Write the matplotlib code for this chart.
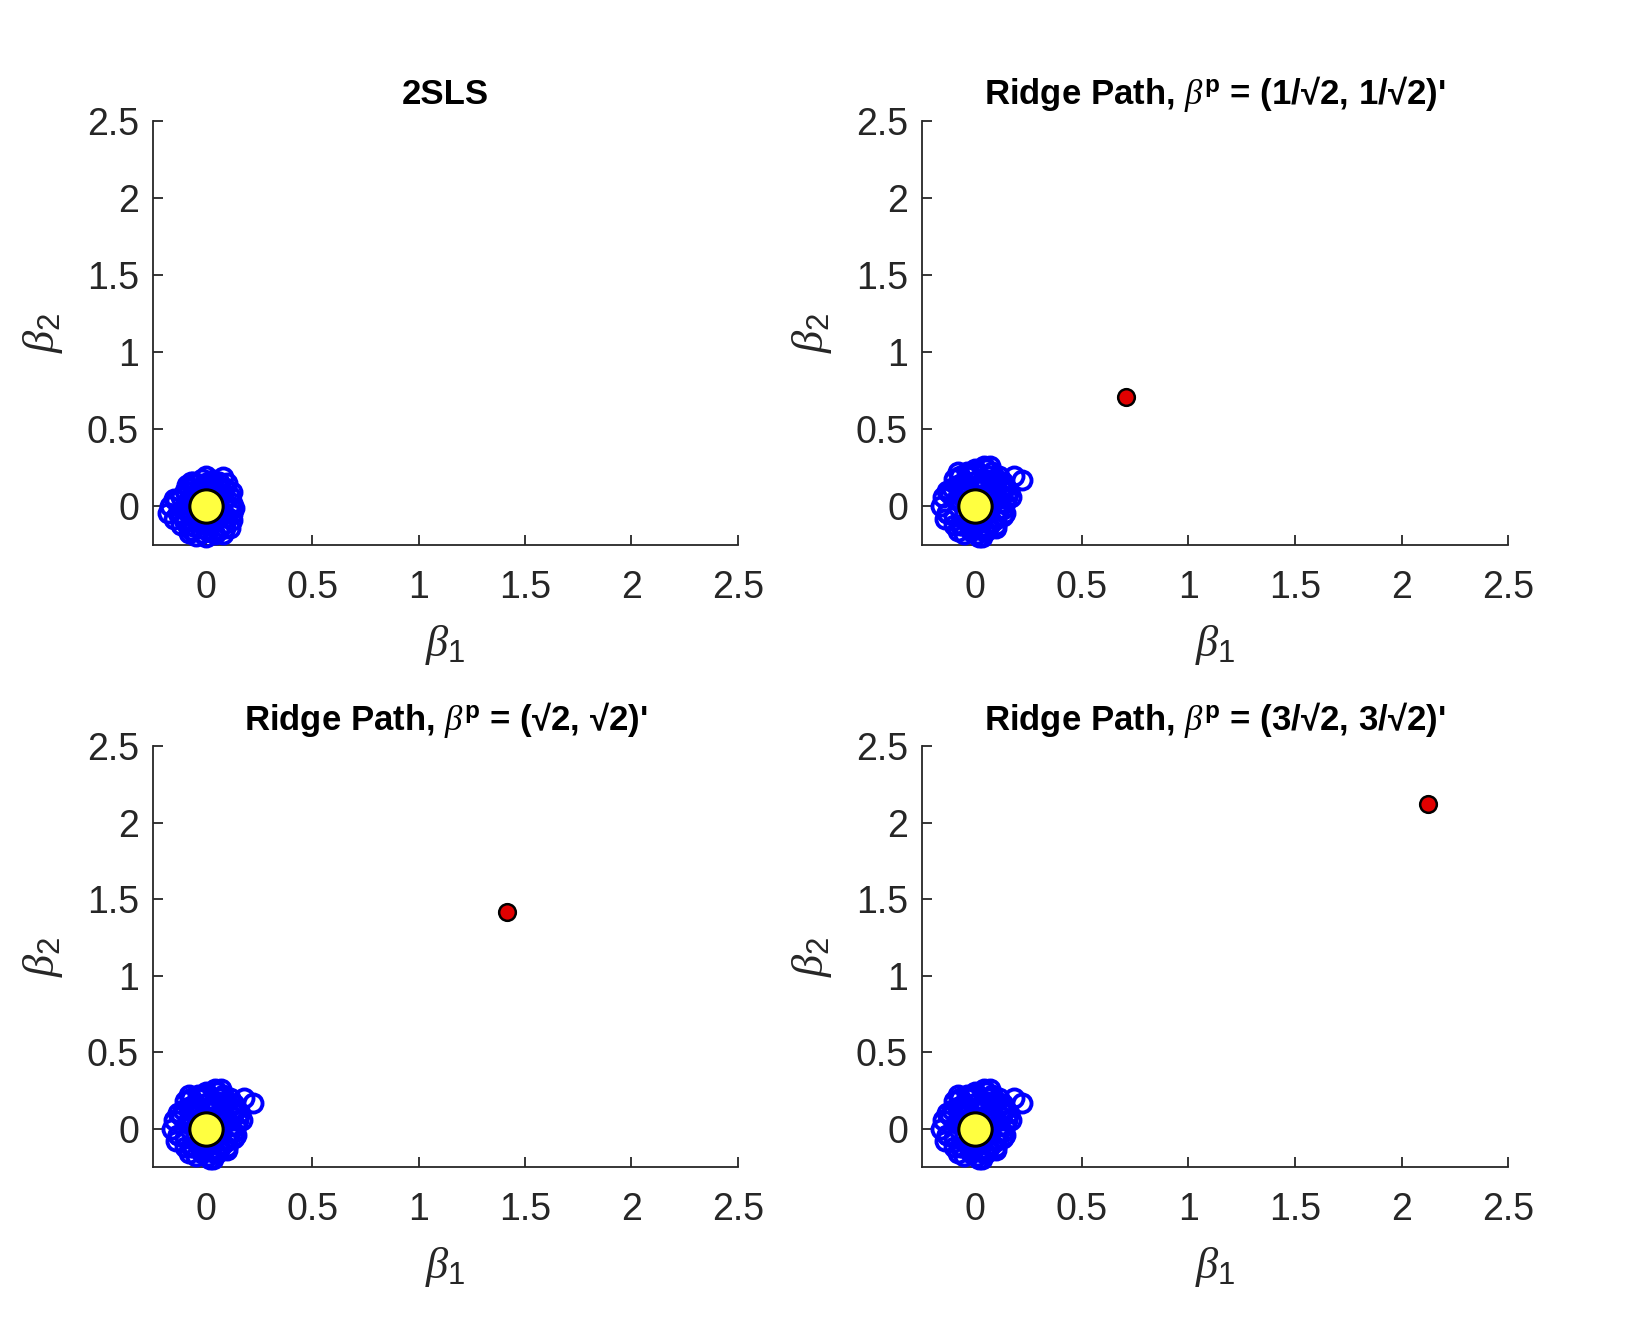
import matplotlib
matplotlib.use("Agg")
import matplotlib.pyplot as plt

# estimates
b1_2sls = [-0.17, -0.12, -0.10, -0.08, -0.06, -0.05, -0.03, -0.02, 0.00, 0.01,
           0.02, 0.03, 0.05, 0.06, 0.08, 0.10, 0.12, 0.13, -0.11, -0.07,
           -0.04, 0.00, 0.04, 0.07, 0.11, -0.09, -0.01, 0.02, 0.09, 0.12,
           -0.13, -0.05, 0.03, 0.06, -0.02, 0.01, 0.08, -0.14, 0.05, -0.06,
           -0.15, -0.12, -0.09, -0.06, -0.03, 0.00, 0.03, 0.06, 0.09, 0.12,
           -0.15, -0.12, -0.09, -0.06, -0.03, 0.00, 0.03, 0.06, 0.09, 0.12,
           -0.10, -0.07, -0.04, -0.01, 0.02, 0.05, 0.08, 0.11, -0.10, -0.07,
           -0.04, -0.01, 0.02, 0.05, 0.08, 0.11, -0.08, 0.10, -0.18, 0.00]
b2_2sls = [0.00, 0.06, -0.08, 0.12, -0.13, 0.15, -0.05, 0.18, 0.10, -0.16,
           0.05, -0.10, 0.14, -0.03, 0.08, -0.07, 0.02, -0.01, -0.02, -0.15,
           0.09, -0.20, -0.18, 0.11, 0.07, 0.03, 0.13, -0.12, -0.14, -0.09,
           -0.04, -0.19, 0.17, 0.16, -0.17, 0.01, 0.19, 0.04, -0.06, 0.10,
           -0.08, -0.12, 0.14, 0.16, -0.14, 0.15, 0.14, -0.15, 0.12, 0.09,
           0.05, -0.05, -0.01, 0.06, 0.11, -0.12, -0.16, 0.12, -0.11, -0.05,
           0.10, 0.03, -0.10, -0.06, 0.16, -0.05, -0.18, 0.00, -0.10, 0.16,
           0.06, 0.14, -0.08, 0.09, 0.02, -0.14, -0.17, 0.15, -0.04, 0.20]

ridge_b1 = [-0.16, -0.12, -0.10, -0.08, -0.06, -0.04, -0.02, 0.00, 0.02, 0.04,
            0.06, 0.08, 0.10, 0.12, 0.14, 0.16, 0.22, -0.13, -0.09, -0.05,
            -0.01, 0.03, 0.07, 0.11, 0.15, -0.11, -0.07, -0.03, 0.01, 0.05,
            0.09, 0.13, -0.14, -0.06, 0.02, 0.10, 0.04, -0.02, 0.08, 0.06,
            0.12, -0.04,
            -0.13, -0.10, -0.07, -0.04, -0.01, 0.02, 0.05, 0.08, 0.11, 0.14,
            -0.13, -0.10, -0.07, -0.04, -0.01, 0.02, 0.05, 0.08, 0.11, 0.14,
            -0.08, -0.05, -0.02, 0.01, 0.04, 0.07, 0.10, 0.13, -0.08, -0.05,
            -0.02, 0.01, 0.04, 0.07, 0.10, 0.13, 0.17, 0.18, -0.15, 0.03]
ridge_b2 = [0.00, 0.08, -0.06, 0.14, -0.12, 0.20, -0.16, 0.24, -0.20, 0.18,
            -0.14, 0.22, -0.08, 0.12, 0.02, 0.10, 0.17, -0.04, 0.04, -0.18,
            0.16, -0.10, 0.26, -0.02, 0.06, 0.12, -0.12, 0.10, -0.18, 0.02,
            0.16, -0.06, -0.08, 0.06, 0.12, -0.12, -0.16, -0.10, 0.04, 0.20,
            0.08, 0.22,
            -0.04, 0.18, 0.20, -0.10, 0.22, -0.14, 0.24, 0.16, 0.20, 0.12,
            0.10, -0.12, 0.14, 0.04, -0.12, 0.18, -0.16, -0.10, 0.02, -0.04,
            0.22, 0.12, -0.06, 0.14, 0.26, -0.02, 0.18, 0.16, -0.16, 0.08,
            0.20, -0.08, 0.06, 0.10, -0.14, -0.02, 0.06, 0.20, 0.06, -0.20]

true_beta = (0.0, 0.0)
# prior points for the ridge panels (None for 2SLS)
prior_points = [None, (0.7071, 0.7071), (1.4142, 1.4142), (2.1213, 2.1213)]
titles = [
    "2SLS",
    r"Ridge Path, $\beta^{\mathbf{p}}$ = (1/√2, 1/√2)'",
    r"Ridge Path, $\beta^{\mathbf{p}}$ = (√2, √2)'",
    r"Ridge Path, $\beta^{\mathbf{p}}$ = (3/√2, 3/√2)'",
]
ticks = [0, 0.5, 1, 1.5, 2, 2.5]
tick_labels = ["0", "0.5", "1", "1.5", "2", "2.5"]

plt.rcParams["font.family"] = ["Liberation Sans", "DejaVu Sans"]
plt.rcParams["mathtext.fontset"] = "custom"
plt.rcParams["mathtext.it"] = "Liberation Serif:italic"
plt.rcParams["mathtext.rm"] = "Liberation Sans"
plt.rcParams["mathtext.bf"] = "Liberation Sans:bold"

fig = plt.figure(figsize=(16.52, 13.39), dpi=100)
positions = [
    [0.0926, 0.593, 0.354, 0.317],
    [0.558, 0.593, 0.355, 0.317],
    [0.0926, 0.1285, 0.354, 0.314],
    [0.558, 0.1285, 0.355, 0.314],
]
axis_col = "#262626"

for i, pos in enumerate(positions):
    ax = fig.add_axes(pos)
    if i == 0:
        xs, ys = b1_2sls, b2_2sls
    else:
        xs, ys = ridge_b1, ridge_b2
    ax.plot(xs, ys, "o", ls="none", mfc="none", mec="#0000ff", ms=13,
            mew=2.8, clip_on=False, zorder=3)
    ax.plot(true_beta[0], true_beta[1], "o", mfc="#ffff40", mec="black",
            ms=24, mew=2.2, clip_on=False, zorder=4)
    if prior_points[i] is not None:
        px, py = prior_points[i]
        ax.plot(px, py, "o", mfc="#e00000", mec="black", ms=12, mew=1.8,
                zorder=5)

    ax.set_xlim(-0.25, 2.5)
    ax.set_ylim(-0.25, 2.5)
    ax.set_xticks(ticks)
    ax.set_xticklabels(tick_labels)
    ax.set_yticks(ticks)
    ax.set_yticklabels(tick_labels)
    for side in ["top", "right"]:
        ax.spines[side].set_visible(False)
    for side in ["left", "bottom"]:
        ax.spines[side].set_color(axis_col)
        ax.spines[side].set_linewidth(1.3)
    ax.tick_params(direction="in", length=7, width=1.3, color=axis_col,
                   labelcolor=axis_col, labelsize=27)
    ax.tick_params(axis="x", pad=18)
    ax.tick_params(axis="y", pad=10)

    ax.set_xlabel(r"$\beta_1$", fontsize=32, color=axis_col, labelpad=12)
    ax.set_ylabel(r"$\beta_2$", fontsize=32, color=axis_col, labelpad=16)
    ax.set_title(titles[i], fontsize=25, fontweight="bold", pad=12)

fig.savefig("out.png", dpi=100)
